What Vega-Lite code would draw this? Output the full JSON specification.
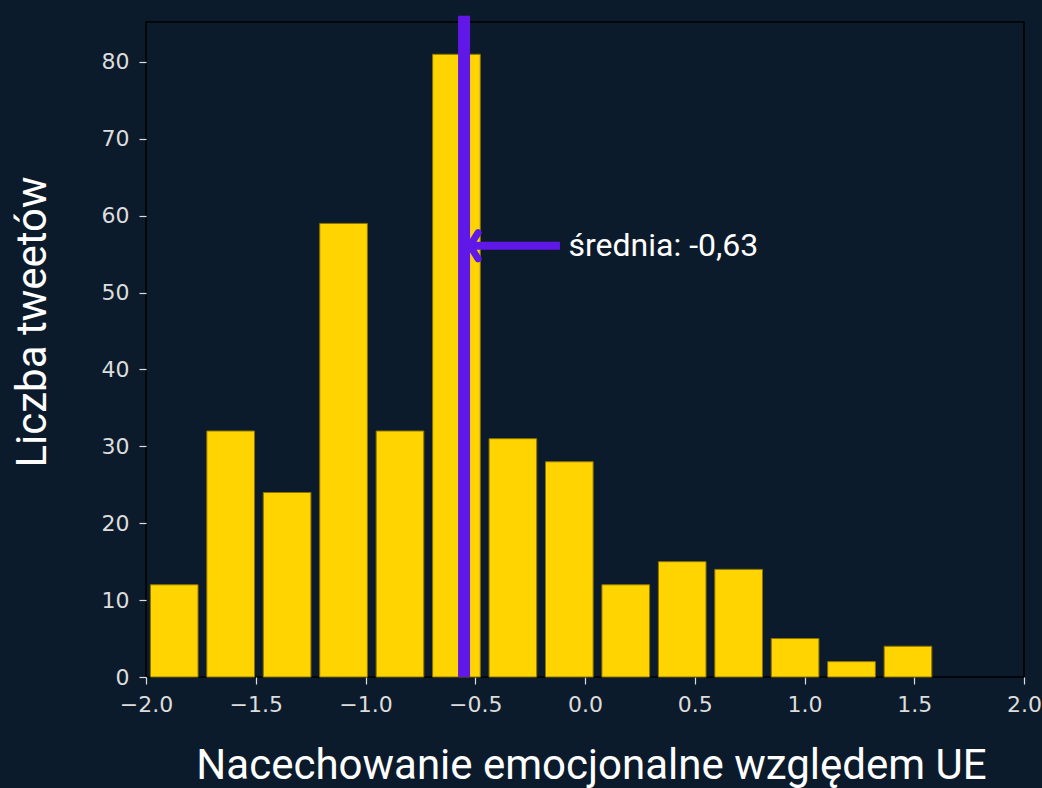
{
  "$schema": "https://vega.github.io/schema/vega-lite/v6.json",
  "autosize": "none",
  "width": 878,
  "height": 655,
  "padding": {"left": 146, "top": 22, "right": 18, "bottom": 111},
  "background": "#0c1b2c",
  "config": {
    "view": {"stroke": "#000000", "strokeWidth": 1.5},
    "axis": {
      "domain": false,
      "grid": false,
      "ticks": true,
      "tickColor": "#dddddd",
      "tickSize": 7,
      "tickWidth": 1.2,
      "labelFont": "DejaVu Sans",
      "labelFontSize": 22,
      "labelColor": "#dddddd",
      "titleFont": "Roboto",
      "titleFontWeight": "normal",
      "titleColor": "#ffffff"
    }
  },
  "datasets": {
    "hist": [
      {"bin_start": -2.0, "bin_end": -1.7429, "count": 12},
      {"bin_start": -1.7429, "bin_end": -1.4857, "count": 32},
      {"bin_start": -1.4857, "bin_end": -1.2286, "count": 24},
      {"bin_start": -1.2286, "bin_end": -0.9714, "count": 59},
      {"bin_start": -0.9714, "bin_end": -0.7143, "count": 32},
      {"bin_start": -0.7143, "bin_end": -0.4571, "count": 81},
      {"bin_start": -0.4571, "bin_end": -0.2, "count": 31},
      {"bin_start": -0.2, "bin_end": 0.0571, "count": 28},
      {"bin_start": 0.0571, "bin_end": 0.3143, "count": 12},
      {"bin_start": 0.3143, "bin_end": 0.5714, "count": 15},
      {"bin_start": 0.5714, "bin_end": 0.8286, "count": 14},
      {"bin_start": 0.8286, "bin_end": 1.0857, "count": 5},
      {"bin_start": 1.0857, "bin_end": 1.3429, "count": 2},
      {"bin_start": 1.3429, "bin_end": 1.6, "count": 4}
    ],
    "arrowhead": [
      {"ax": -0.487, "ay": 57.8, "step": 0},
      {"ax": -0.524, "ay": 56.1, "step": 1},
      {"ax": -0.487, "ay": 54.4, "step": 2}
    ],
    "one": [{}]
  },
  "layer": [
    {
      "data": {"name": "hist"},
      "mark": {"type": "bar", "color": "#ffd400", "stroke": "#8c7400", "strokeWidth": 1, "xOffset": 4.4, "x2Offset": -4.4},
      "encoding": {
        "x": {
          "field": "bin_start",
          "type": "quantitative",
          "scale": {"domain": [-2, 2], "nice": false, "zero": false},
          "axis": {
            "values": [-2, -1.5, -1, -0.5, 0, 0.5, 1, 1.5, 2],
            "labelExpr": "replace(format(datum.value, '.1f'), '-', '\u2212')",
            "labelPadding": 10,
            "labelFlush": false,
            "labelOverlap": false,
            "title": "Nacechowanie emocjonalne względem UE",
            "titleFontSize": 42,
            "titleX": 445,
            "titleY": 101,
            "titleAlign": "center",
            "titleBaseline": "alphabetic"
          }
        },
        "x2": {"field": "bin_end"},
        "y": {
          "field": "count",
          "type": "quantitative",
          "scale": {"domain": [0, 85.2], "nice": false},
          "axis": {
            "values": [0, 10, 20, 30, 40, 50, 60, 70, 80],
            "format": "d",
            "labelPadding": 10,
            "labelFlush": false,
            "labelOverlap": false,
            "title": "Liczba tweetów",
            "titleFontSize": 42,
            "titleAngle": 270,
            "titleX": -101,
            "titleY": 299.5,
            "titleAlign": "center",
            "titleBaseline": "alphabetic"
          }
        },
        "y2": {"datum": 0}
      }
    },
    {
      "data": {"name": "one"},
      "mark": {"type": "rule", "color": "#6018e8", "strokeWidth": 12, "strokeCap": "butt", "clip": false},
      "encoding": {
        "x": {"datum": -0.551, "type": "quantitative", "scale": {"domain": [-2, 2], "nice": false, "zero": false}},
        "y": {"datum": 0, "type": "quantitative", "scale": {"domain": [0, 85.2], "nice": false}},
        "y2": {"datum": 86}
      }
    },
    {
      "data": {"name": "one"},
      "mark": {"type": "rule", "color": "#6018e8", "strokeWidth": 8, "strokeCap": "butt"},
      "encoding": {
        "x": {"datum": -0.522, "type": "quantitative"},
        "x2": {"datum": -0.114},
        "y": {"datum": 56.1, "type": "quantitative"}
      }
    },
    {
      "data": {"name": "arrowhead"},
      "mark": {"type": "line", "color": "#6018e8", "strokeWidth": 7, "strokeCap": "round", "strokeJoin": "round"},
      "encoding": {
        "x": {"field": "ax", "type": "quantitative"},
        "y": {"field": "ay", "type": "quantitative"},
        "order": {"field": "step", "type": "quantitative"}
      }
    },
    {
      "data": {"name": "one"},
      "mark": {"type": "text", "text": "średnia: -0,63", "font": "Roboto", "fontSize": 32, "color": "#ffffff", "align": "left", "baseline": "middle"},
      "encoding": {
        "x": {"datum": -0.075, "type": "quantitative"},
        "y": {"datum": 56.1, "type": "quantitative"}
      }
    }
  ]
}
